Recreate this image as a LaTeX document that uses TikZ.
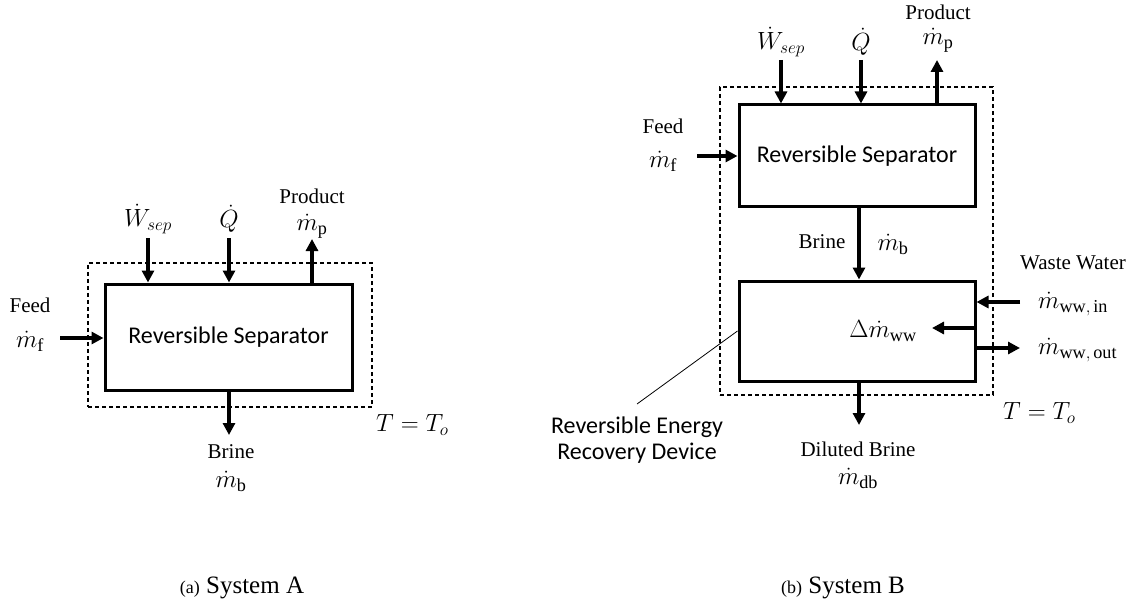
\documentclass[tikz,border=0pt]{standalone}
\usepackage{fontspec}
\setmainfont{Liberation Serif}
\newfontfamily\boxfont{Carlito}
\usetikzlibrary{arrows.meta}
\tikzset{
  unit/.style={draw, line width=3pt, inner sep=0pt, align=center, font=\boxfont\fontsize{24}{29}\selectfont},
  envelope/.style={draw, line width=1.2pt, dash pattern=on 4pt off 3pt, inner sep=0pt},
  flow/.style={line width=3.5pt, -{Triangle[length=12pt,width=12pt]}},
  lbl/.style={font=\fontsize{21}{25}\selectfont, inner sep=0pt},
  mlbl/.style={font=\fontsize{26}{30}\selectfont, inner sep=0pt},
  note/.style={font=\boxfont\fontsize{24}{26}\selectfont, align=center, inner sep=0pt},
  captext/.style={font=\fontsize{25}{28}\selectfont, inner sep=0pt},
  leader/.style={line width=0.8pt},
}
\begin{document}
\begin{tikzpicture}[x=1pt,y=-1pt]
\useasboundingbox (0,0) rectangle (1136,607);

% ---------------- System A ----------------
\node[envelope, minimum width=284pt, minimum height=144pt] (envA) at (230,335) {};
\node[unit, minimum width=247pt, minimum height=106pt] (sepA) at (228.5,337) {Reversible Separator};

\coordinate (wA) at (148,238);
\coordinate (qA) at (229,238);
\coordinate (pA) at (312,239);
\coordinate (fA) at (60,338);
\coordinate (bA) at (229,435);
\draw[flow] (wA) -- (wA |- sepA.north);
\draw[flow] (qA) -- (qA |- sepA.north);
\draw[flow] (sepA.north -| pA) -- (pA);
\draw[flow] (fA) -- (fA -| sepA.west);
\draw[flow] (sepA.south -| bA) -- (bA);

\node[mlbl] (WA) at (148,219) {$\dot{W}_{sep}$};
\node[mlbl] (QA) at (229,219) {$\dot{Q}$};
\node[lbl] (prodA) at (312,196) {Product};
\node[mlbl] (mpA) at (312,226) {$\dot{m}_{\mathrm{p}}$};
\node[lbl] (feedA) at (30,305) {Feed};
\node[mlbl] (mfA) at (30,341) {$\dot{m}_{\mathrm{f}}$};
\node[lbl] (brineA) at (231,452) {Brine};
\node[mlbl] (mbA) at (231,481) {$\dot{m}_{\mathrm{b}}$};
\node[mlbl, anchor=west] (TA) at (376,425) {$T = T_o$};
\node[captext] (capA) at (242,588) {{\fontsize{18}{20}\selectfont(a)} System A};

% ---------------- System B ----------------
\node[envelope, minimum width=273pt, minimum height=308pt] (envB) at (856.5,241) {};
\node[unit, minimum width=236pt, minimum height=102pt] (sepB) at (857,156) {Reversible Separator};
\node[unit, minimum width=236pt, minimum height=100pt] (erd) at (857,331) {};
\node[mlbl] (dmww) at (883,331) {$\Delta\dot{m}_{\mathrm{ww}}$};

\coordinate (wB) at (781,60);
\coordinate (qB) at (861,60);
\coordinate (pB) at (937,60);
\coordinate (fB) at (697,156);
\coordinate (dbB) at (859,425);
\coordinate (wwinS) at (1020,302);
\coordinate (dmE) at (932,328);
\coordinate (wwoutE) at (1020,348);
\coordinate (ledEnd) at (637,404);

\draw[flow] (wB) -- (wB |- sepB.north);
\draw[flow] (qB) -- (qB |- sepB.north);
\draw[flow] (sepB.north -| pB) -- (pB);
\draw[flow] (fB) -- (fB -| sepB.west);
\draw[flow] (sepB.south -| dbB) -- (erd.north -| dbB);
\draw[flow] (erd.south -| dbB) -- (dbB);
\draw[flow] (wwinS) -- (wwinS -| erd.east);
\draw[flow] (dmE -| erd.east) -- (dmE);
\draw[flow] (wwoutE -| erd.east) -- (wwoutE);
\draw[leader] (erd.west) -- (ledEnd);

\node[lbl] (feedB) at (663,126) {Feed};
\node[mlbl] (mfB) at (663,161) {$\dot{m}_{\mathrm{f}}$};
\node[mlbl] (WB) at (781,42) {$\dot{W}_{sep}$};
\node[mlbl] (QB) at (861,42) {$\dot{Q}$};
\node[lbl] (prodB) at (938,12) {Product};
\node[mlbl] (mpB) at (938,40) {$\dot{m}_{\mathrm{p}}$};
\node[lbl] (brineB) at (822,242) {Brine};
\node[mlbl] (mbB) at (893,244) {$\dot{m}_{\mathrm{b}}$};
\node[lbl] (wwB) at (1073,263) {Waste Water};
\node[mlbl, anchor=west] (wwinB) at (1038,304) {$\dot{m}_{\mathrm{ww,\,in}}$};
\node[mlbl, anchor=west] (wwoutB) at (1038,350) {$\dot{m}_{\mathrm{ww,\,out}}$};
\node[mlbl, anchor=west] (TB) at (1003,413) {$T = T_o$};
\node[lbl] (dilB) at (858,449) {Diluted Brine};
\node[mlbl] (mdbB) at (858,478) {$\dot{m}_{\mathrm{db}}$};
\node[note] (erdLbl) at (637,440) {Reversible Energy\\Recovery Device};
\node[captext] (capB) at (843,588) {{\fontsize{18}{20}\selectfont(b)} System B};
\end{tikzpicture}
\end{document}
